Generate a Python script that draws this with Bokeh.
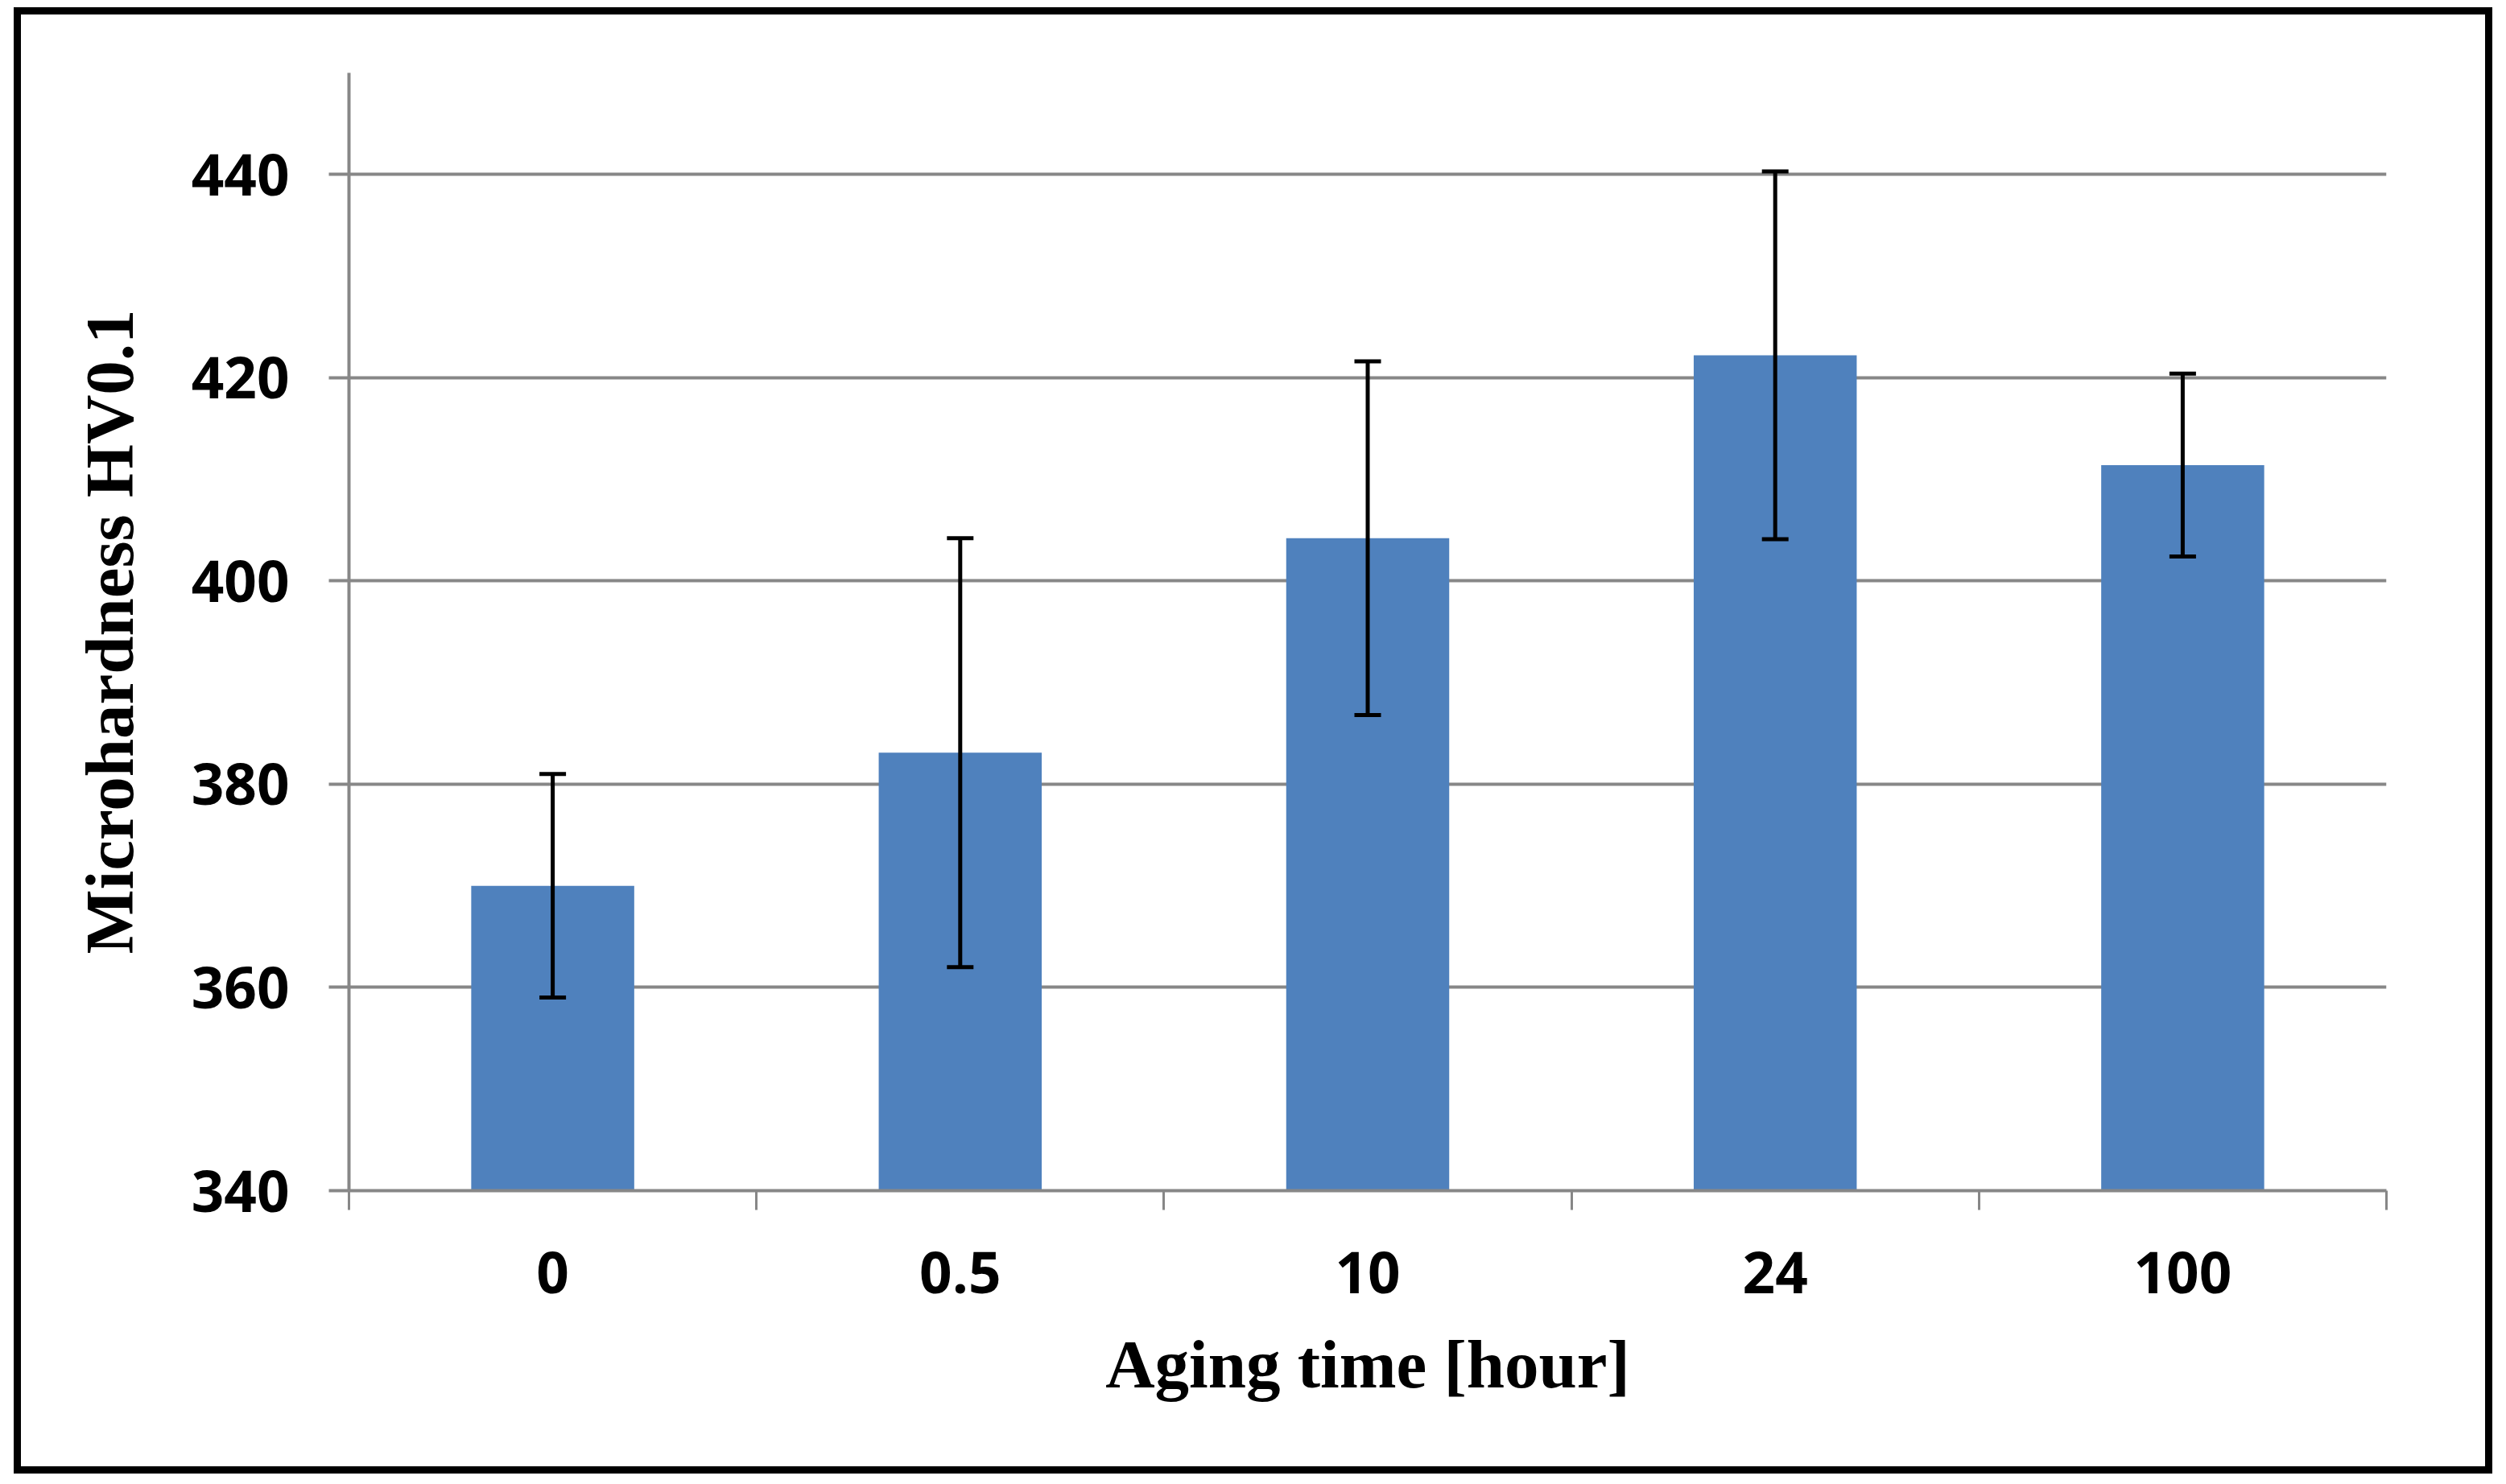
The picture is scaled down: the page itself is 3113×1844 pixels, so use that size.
from bokeh.plotting import figure
from bokeh.models import ColumnDataSource, Whisker, TeeHead, FixedTicker, Range1d
from bokeh.embed import file_html
from bokeh.resources import INLINE

# ---- data ----
aging_time = ["0", "0.5", "10", "24", "100"]          # categories (hours)
hardness = [370.0, 383.1, 404.2, 422.2, 411.4]       # mean HV0.1
hardness_err = [11.0, 21.1, 17.4, 18.1, 9.0]         # +/- error
y_ticks = [340, 360, 380, 400, 420, 440]
y_min, y_max = 340, 450

# ---- derived ----
centers = [i + 0.5 for i in range(len(aging_time))]
bounds = list(range(len(aging_time) + 1))
upper = [h + e for h, e in zip(hardness, hardness_err)]
lower = [h - e for h, e in zip(hardness, hardness_err)]
src = ColumnDataSource(dict(x=centers, top=hardness, upper=upper, lower=lower))

GRAY = "#878787"
BAR = "#4F81BD"
W, H = 3079, 1822

p = figure(width=W, height=H,
           x_range=Range1d(0, len(aging_time)), y_range=Range1d(y_min, y_max),
           output_backend="svg", toolbar_location=None,
           min_border_left=407, min_border_right=141,
           min_border_top=72, min_border_bottom=361,
           x_axis_label="Aging time [hour]", y_axis_label="Microhardness HV0.1")
p.outline_line_color = None
p.background_fill_color = "white"
p.border_fill_color = "white"
p.styles = {"border": "9px solid black", "margin-left": "17px", "margin-top": "9px"}

p.vbar(x="x", top="top", bottom=y_min, width=0.4, source=src,
       fill_color=BAR, line_color=None)

w = Whisker(base="x", upper="upper", lower="lower", source=src, level="overlay",
            line_color="black", line_width=5,
            upper_head=TeeHead(size=33, line_color="black", line_width=5),
            lower_head=TeeHead(size=33, line_color="black", line_width=5))
p.add_layout(w)

# x axis: labels at category centres, tick marks at category boundaries
xa = p.xaxis[0]
xa.ticker = FixedTicker(ticks=centers, minor_ticks=bounds)
xa.major_label_overrides = {c: lab for c, lab in zip(centers, aging_time)}
xa.major_tick_out = 0
xa.major_tick_in = 0
xa.minor_tick_out = 24
xa.minor_tick_in = 0
xa.minor_tick_line_color = GRAY
xa.minor_tick_line_width = 3
xa.axis_line_color = GRAY
xa.axis_line_width = 4
xa.major_label_standoff = 51
xa.axis_label_standoff = 38

ya = p.yaxis[0]
ya.ticker = FixedTicker(ticks=y_ticks, minor_ticks=[])
ya.major_tick_out = 25
ya.major_tick_in = 0
ya.major_tick_line_color = GRAY
ya.major_tick_line_width = 4
ya.minor_tick_out = 0
ya.minor_tick_in = 0
ya.axis_line_color = GRAY
ya.axis_line_width = 4
ya.major_label_standoff = 49
ya.axis_label_standoff = 52

for ax in (xa, ya):
    ax.major_label_text_font = "Open Sans"
    ax.major_label_text_font_style = "bold"
    ax.major_label_text_font_size = "71px"
    ax.major_label_text_color = "black"
    ax.axis_label_text_font = "Liberation Serif"
    ax.axis_label_text_font_style = "bold"
    ax.axis_label_text_font_size = "85px"
    ax.axis_label_text_color = "black"

p.xgrid.visible = False
p.ygrid.grid_line_color = GRAY
p.ygrid.grid_line_width = 4

open("out.html", "w").write(file_html(p, INLINE))
